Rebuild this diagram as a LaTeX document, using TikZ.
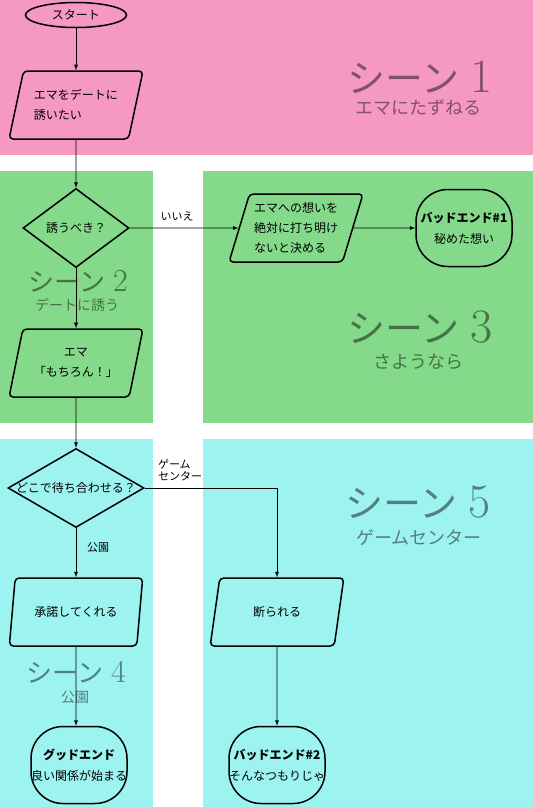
\documentclass[tikz,border=0pt]{standalone}
\usepackage{fontspec}
\newfontfamily\cjk{Noto Sans CJK JP}
\usepackage{xcolor}
\usetikzlibrary{
    arrows,
    shapes,
    calc,
    positioning
}
\definecolor{scenepink}{HTML}{F599C3}
\definecolor{scenegreen}{HTML}{84D98A}
\definecolor{scenecyan}{HTML}{9CF3EF}

\newcommand{\scenetitle}[4]{{\cjk\fontsize{#1}{#1}\selectfont シーン}\hspace{#4}{\fontsize{#2}{#2}\selectfont #3}}

\tikzset{
    io/.style={trapezium, trapezium left angle=70, trapezium right angle=110,
        trapezium stretches=true, draw, line width=1.5pt, rounded corners=4pt,
        minimum width=134pt, minimum height=68pt, inner sep=0pt,
        font=\cjk\fontsize{12}{14}\selectfont},
    decision/.style={diamond, draw, line width=1.5pt, inner sep=0pt,
        font=\cjk\fontsize{12}{14}\selectfont},
    ending/.style={rectangle, draw, line width=1.5pt, rounded corners=32pt,
        minimum width=96pt, minimum height=77pt, inner sep=0pt,
        font=\cjk\fontsize{12}{14}\selectfont},
    lbl/.style={inner sep=0pt, font=\cjk\fontsize{11}{13}\selectfont},
    scene/.style={inner sep=0pt, text=black, text opacity=0.47},
    link/.style={->, line width=0.9pt}
}

\begin{document}
\begin{tikzpicture}[x=1pt, y=-1pt, >=latex]
    \fill[scenepink] (0, 0) rectangle (533, 155);
    \fill[scenegreen] (0, 171) rectangle (153, 423);
    \fill[scenegreen] (203, 171) rectangle (533, 423);
    \fill[scenecyan] (0, 439) rectangle (153, 807);
    \fill[scenecyan] (203, 439) rectangle (533, 807);
    \useasboundingbox (0, 0) rectangle (533, 807);

    \node[scene] (t1) at (420, 77) {\scenetitle{38}{48}{1}{11pt}};
    \node[scene, font=\cjk\fontsize{18}{18}\selectfont] (u1) at (418, 108) {エマにたずねる};
    \node[scene] (t2) at (78, 281) {\scenetitle{26}{32}{2}{8pt}};
    \node[scene, font=\cjk\fontsize{14}{14}\selectfont] (u2) at (77, 305) {デートに誘う};
    \node[scene] (t3) at (420, 327) {\scenetitle{38}{48}{3}{11pt}};
    \node[scene, font=\cjk\fontsize{18}{18}\selectfont] (u3) at (418, 362) {さようなら};
    \node[scene] (t4) at (76, 672) {\scenetitle{26}{32}{4}{8pt}};
    \node[scene, font=\cjk\fontsize{14}{14}\selectfont] (u4) at (75, 697) {公園};
    \node[scene] (t5) at (418, 502) {\scenetitle{38}{48}{5}{11pt}};
    \node[scene, font=\cjk\fontsize{18}{18}\selectfont] (u5) at (419, 538) {ゲームセンター};

    \node[ellipse, draw, line width=1.5pt, minimum width=101pt, minimum height=25pt,
        inner sep=0pt, font=\cjk\fontsize{12}{14}\selectfont] (s) at (76, 15) {スタート};
    \node[io] (p1) at (76, 105) {\shortstack[l]{エマをデートに\\[7pt]誘いたい}};
    \node[decision, minimum width=106pt, minimum height=79pt] (d1) at (76, 228) {\makebox[0pt]{誘うべき？}};
    \node[io] (p2) at (76, 363) {\shortstack{エマ\\[7pt]「もちろん！」}};
    \node[io] (p3) at (296, 228) {\shortstack[l]{エマへの想いを\\[6pt]絶対に打ち明け\\[6pt]ないと決める}};
    \node[ending] (e1) at (464, 228) {\shortstack{\textbf{バッドエンド\#1}\\[7pt]秘めた想い}};
    \node[decision, minimum width=136pt, minimum height=79pt] (d2) at (76, 488) {\makebox[0pt]{どこで待ち合わせる？}};
    \node[io] (p4) at (76, 612) {承諾してくれる};
    \node[io] (p5) at (277, 612) {断られる};
    \node[ending] (e2) at (79, 765) {\shortstack{\textbf{グッドエンド}\\[7pt]良い関係が始まる}};
    \node[ending] (e3) at (277, 765) {\shortstack{\textbf{バッドエンド\#2}\\[7pt]そんなつもりじゃ}};

    \node[lbl] (l1) at (177, 216) {いいえ};
    \node[lbl] (l2) at (98, 547) {公園};
    \node[lbl] (l3) at (180, 470) {\shortstack[l]{ゲーム\\センター}};

    \draw[link]
    (s) edge (p1)
    (p1) edge (d1)
    (d1) edge (p2)
    (p2) edge (d2)
    (d1) edge (p3)
    (p3) edge (e1)
    (d2) edge (p4)
    (p4) edge (p4 |- e2.north)
    (p5) edge (e3);
    \draw[link] (d2.east) -| (p5.north);
\end{tikzpicture}
\end{document}
